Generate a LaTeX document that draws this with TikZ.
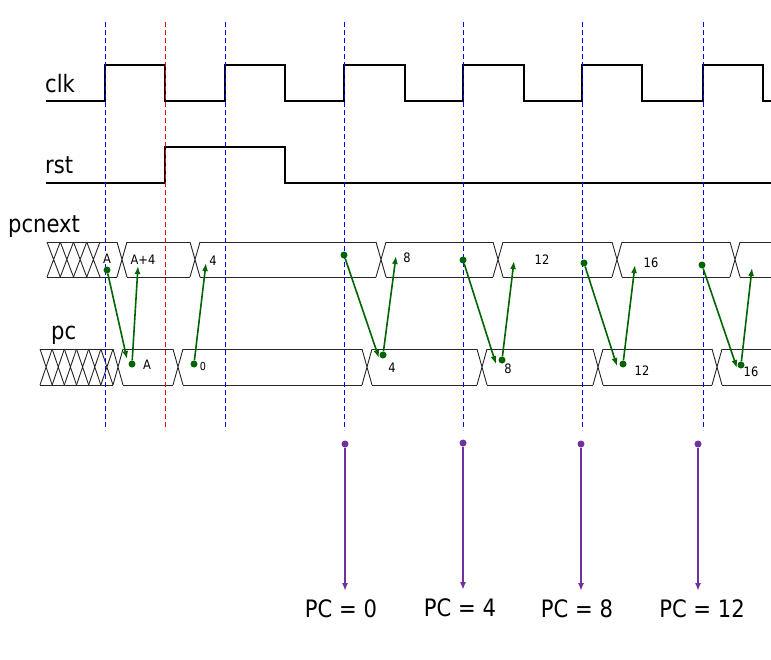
\documentclass[tikz,border=0pt]{standalone}
\usepackage{fontspec}
\setmainfont{DejaVu Sans}[FakeStretch=0.88]
\usetikzlibrary{arrows.meta}
\definecolor{dgreen}{RGB}{0,100,0}
\definecolor{vpurple}{RGB}{112,48,160}
\begin{document}
\begin{tikzpicture}[x=1pt,y=-1pt,
  sig/.style={line width=1.3pt,black},
  bus/.style={line width=0.9pt,black!85},
  guideb/.style={blue,line width=0.9pt,dash pattern=on 5pt off 3pt},
  guider/.style={red,line width=0.9pt,dash pattern=on 5pt off 3pt},
  biglbl/.style={font=\fontsize{24}{28}\selectfont,inner sep=0pt},
  vallbl/.style={font=\fontsize{13}{15}\selectfont,inner sep=0pt},
  garrow/.style={dgreen,line width=1.6pt,-{Latex[length=8pt,width=6pt]}},
  gdot/.style={circle,fill=dgreen,inner sep=0pt,minimum size=7pt},
  parrow/.style={vpurple,line width=1.6pt,-{Latex[length=8pt,width=6pt]}},
  pdot/.style={circle,fill=vpurple,inner sep=0pt,minimum size=7pt},
]
\useasboundingbox[fill=white] (0,0) rectangle (771,659);

% signal names
\node[biglbl,anchor=base west] (lclk) at (45,92) {clk};
\node[biglbl,anchor=base west] (lrst) at (45,173) {rst};
\node[biglbl,anchor=base west] (lpcn) at (8,232) {pcnext};
\node[biglbl,anchor=base west] (lpc) at (51,339) {pc};

% clk
\draw[sig] (46,101) -- (105,101) -- (105,65) -- (165,65) -- (165,101) -- (225,101) -- (225,65) -- (285,65) -- (285,101) -- (344,101) -- (344,65) -- (405,65) -- (405,101) -- (463,101) -- (463,65) -- (524,65) -- (524,101) -- (582,101) -- (582,65) -- (642,65) -- (642,101) -- (703,101) -- (703,65) -- (763,65) -- (763,101) -- (771,101);
% rst
\draw[sig] (46,183) -- (165,183) -- (165,147) -- (285,147) -- (285,183) -- (771,183);

% pcnext bus
\foreach \i in {0,...,3} {
  \draw[bus] ({47+13.25*\i},242) -- ({47+13.25*(\i+1)},277) ({47+13.25*\i},277) -- ({47+13.25*(\i+1)},242);
}
\foreach \a/\b in {47/117,127/190,200/376,386/493,503/612,622/730,740/771} {
  \draw[bus] (\a,242) -- (\b,242) (\a,277) -- (\b,277);
}
\foreach \c in {122,195,381,498,617,735} {
  \draw[bus] (\c-5,242) -- (\c+5,277) (\c-5,277) -- (\c+5,242);
}
% pc bus
\foreach \i in {0,...,5} {
  \draw[bus] ({40+12.17*\i},349) -- ({40+12.17*(\i+1)},385) ({40+12.17*\i},385) -- ({40+12.17*(\i+1)},349);
}
\foreach \a/\b in {40/113,123/173,183/362,372/477,487/593,603/712,722/771} {
  \draw[bus] (\a,349) -- (\b,349) (\a,385) -- (\b,385);
}
\foreach \c in {118,178,367,482,598,717} {
  \draw[bus] (\c-5,349) -- (\c+5,385) (\c-5,385) -- (\c+5,349);
}

% guides
\foreach \x in {105,225,344,463,582,703} {
  \draw[guideb] (\x,22) -- (\x,430);
}
\draw[guider] (165,22) -- (165,430);

% values
\node[vallbl,fill=white,inner sep=0.5pt] (vn1) at (107,259) {A};
\node[vallbl] (vn2) at (143,260) {A+4};
\node[vallbl] (vn3) at (213,261) {4};
\node[vallbl] (vn4) at (407,258) {8};
\node[vallbl] (vn5) at (542,260) {12};
\node[vallbl] (vn6) at (651,263) {16};
\node[vallbl] (vp1) at (147,365) {A};
\node[vallbl,font=\fontsize{11}{13}\selectfont] (vp2) at (203,366) {0};
\node[vallbl] (vp3) at (392,368) {4};
\node[vallbl] (vp4) at (508,369) {8};
\node[vallbl] (vp5) at (642,371) {12};
\node[vallbl] (vp6) at (751,372) {16};

% green arrows
\node[gdot] (g1) at (107,270) {};
\coordinate (t1) at (127,359);
\node[gdot] (g2) at (132,364) {};
\coordinate (t2) at (138,266);
\node[gdot] (g3) at (194,364) {};
\coordinate (t3) at (206,263);
\node[gdot] (g4) at (344,255) {};
\coordinate (t4) at (379,358);
\node[gdot] (g5) at (383,355) {};
\coordinate (t5) at (396,256);
\node[gdot] (g6) at (463,260) {};
\coordinate (t6) at (496,364);
\node[gdot] (g7) at (502,360) {};
\coordinate (t7) at (514,261);
\node[gdot] (g8) at (584,263) {};
\coordinate (t8) at (617,366);
\node[gdot] (g9) at (623,364) {};
\coordinate (t9) at (635,265);
\node[gdot] (g10) at (702,265) {};
\coordinate (t10) at (737,368);
\node[gdot] (g11) at (741,365) {};
\coordinate (t11) at (752,268);
\foreach \k in {1,...,11} {
  \draw[garrow] (g\k) -- (t\k);
}

% purple arrows and PC labels
\node[pdot] (p1) at (345,444) {};
\node[pdot] (p2) at (463,443) {};
\node[pdot] (p3) at (581,444) {};
\node[pdot] (p4) at (698,444) {};
\coordinate (q1) at (345,591);
\coordinate (q2) at (463,590);
\coordinate (q3) at (581,591);
\coordinate (q4) at (698,591);
\foreach \k in {1,...,4} {
  \draw[parrow] (p\k) -- (q\k);
}
\node[biglbl,anchor=base] (l1) at (341,617) {PC = 0};
\node[biglbl,anchor=base] (l2) at (460,616) {PC = 4};
\node[biglbl,anchor=base] (l3) at (577,617) {PC = 8};
\node[biglbl,anchor=base] (l4) at (702,617) {PC = 12};
\end{tikzpicture}
\end{document}
